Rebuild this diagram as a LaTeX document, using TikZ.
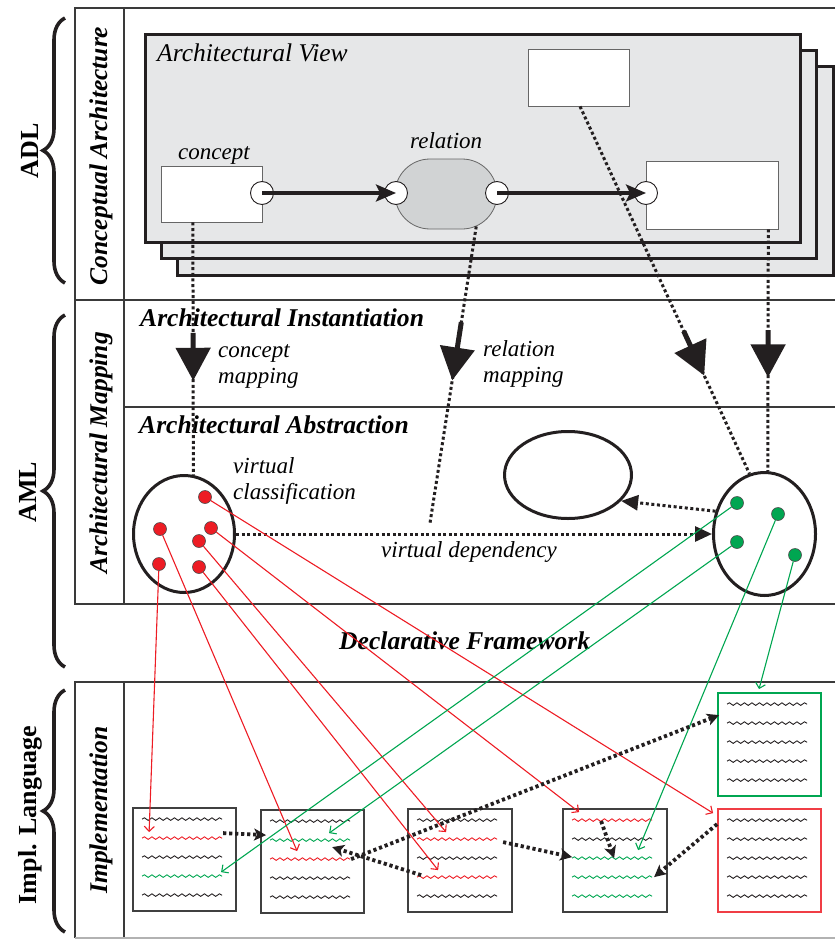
\documentclass[tikz,border=0pt]{standalone}
\usepackage{fontspec}
\setmainfont{Liberation Serif}
\usetikzlibrary{arrows.meta,calc,shapes.geometric,shapes.misc,decorations.pathmorphing,decorations.pathreplacing}

\definecolor{viewfill}{HTML}{E6E7E8}
\definecolor{relfill}{HTML}{D1D3D4}
\definecolor{ink}{HTML}{231F20}
\definecolor{rule}{HTML}{3A3A3A}
\definecolor{dotred}{HTML}{ED1C24}
\definecolor{dotgreen}{HTML}{00A651}
\definecolor{wk}{HTML}{231F20}
\definecolor{wr}{HTML}{ED1C24}
\definecolor{wg}{HTML}{00A651}

% five wavy "code lines" inside an implementation box, with named end points
\newcommand\codelines[2]{%
  \foreach \c [count=\k] in {#2} {
    \coordinate (b#1-\k-L) at ($(b#1.north west)+(10,{12+19*(\k-1)})$);
    \coordinate (b#1-\k-R) at ($(b#1.north west)+(90,{12+19*(\k-1)})$);
    \draw[wave, w\c] (b#1-\k-L) -- (b#1-\k-R);
  }}

\begin{document}
\begin{tikzpicture}[x=1pt,y=-1pt,
  rulestyle/.style={line width=1.6pt, draw=rule},
  sheet/.style={draw=ink, line width=3pt, fill=viewfill},
  plainbox/.style={draw=black!60, line width=0.8pt, fill=white, inner sep=0},
  port/.style={circle, draw=ink, line width=0.9pt, fill=white, minimum size=23pt, inner sep=0},
  adlarrow/.style={draw=ink, line width=3.2pt, -{Stealth[length=20pt,width=17pt,inset=4pt]}},
  mapdots/.style={draw=ink, line width=3pt, dash pattern=on 3pt off 2.6pt},
  bigarrow/.style={draw=ink, line width=5pt, -{Triangle[length=33pt,width=34pt]}},
  classell/.style={ellipse, draw=ink, line width=3pt, inner sep=0},
  reddot/.style={circle, fill=dotred, draw=ink!80, line width=0.6pt, minimum size=13pt, inner sep=0},
  greendot/.style={circle, fill=dotgreen, draw=ink!80, line width=0.6pt, minimum size=13pt, inner sep=0},
  deparrow/.style={mapdots, -{Triangle[length=17pt,width=15pt]}},
  redlink/.style={draw=dotred, line width=1.1pt, -{Straight Barb[length=5pt,width=10pt]}},
  greenlink/.style={draw=dotgreen, line width=1.1pt, -{Straight Barb[length=5pt,width=10pt]}},
  implbox/.style={draw=black!75, line width=1.8pt, minimum width=103pt, minimum height=103pt, inner sep=0},
  wave/.style={line width=0.9pt, decorate, decoration={snake, segment length=7.5pt, amplitude=1.3pt}},
  impldots/.style={draw=ink, line width=3.8pt, dash pattern=on 3.2pt off 2.8pt, -{Stealth[length=12pt,width=12pt,inset=3pt]}},
  lbl/.style={font=\fontsize{23}{25.5}\selectfont\itshape, inner sep=0, align=left},
  headlbl/.style={font=\fontsize{25.6}{28}\selectfont\bfseries\itshape, inner sep=0},
  collbl/.style={font=\fontsize{25.5}{28}\selectfont\bfseries\itshape, inner sep=0, rotate=90, anchor=base},
  sidelbl/.style={font=\fontsize{26}{28}\selectfont\bfseries, inner sep=0, rotate=90, anchor=base},
  bracestyle/.style={draw=ink, line width=3.6pt, decorate, decoration={brace, amplitude=22pt}}
]
\useasboundingbox (0,0) rectangle (835,939);

% ---- band frames ----
\draw[rulestyle] (835,8) -- (75,8) -- (75,604) -- (835,604);
\draw[rulestyle] (124,8) -- (124,604);
\draw[rulestyle] (75,300) -- (835,300);
\draw[rulestyle] (124,407) -- (835,407);
\draw[rulestyle] (835,682) -- (75,682) -- (75,938);
\draw[rulestyle] (124,682) -- (124,938);
\draw[line width=1.6pt, draw=black!30] (75,938) -- (835,938);

% ---- braces and side labels ----
\draw[bracestyle] (65,283) -- (65,18);
\draw[bracestyle] (65,667) -- (65,315);
\draw[bracestyle] (65,932) -- (65,690);
\node[sidelbl] (adl) at (38,151) {ADL};
\node[sidelbl] (aml) at (36,492) {AML};
\node[sidelbl] (impl) at (36,815) {Impl. Language};
\node[collbl] (colca) at (107,156) {Conceptual Architecture};
\node[collbl] (colam) at (107,453) {Architectural Mapping};
\node[collbl] (colim) at (107,810) {Implementation};

% ---- stacked architectural views ----
\draw[sheet] (177,67) rectangle (833,275);
\draw[sheet] (161,51) rectangle (816,258);
\draw[sheet] (145,35) rectangle (800,242);
\node[lbl, font=\fontsize{25.5}{28}\selectfont\itshape, anchor=base west] (viewlbl) at (157,62) {Architectural View};

\node[plainbox, minimum width=101pt, minimum height=56pt] (concept) at (211.5,194) {};
\node[plainbox, minimum width=101pt, minimum height=57pt] (topbox) at (578.5,77.5) {};
\node[plainbox, minimum width=132pt, minimum height=68pt] (target) at (712,195) {};
\node[rounded rectangle, draw=black!60, line width=0.8pt, fill=relfill,
      minimum width=102pt, minimum height=70pt, inner sep=0] (rel) at (446,194) {};
\node[lbl, anchor=base west] (conceptlbl) at (178,159) {concept};
\node[lbl, anchor=base west] (rellbl) at (410,148) {relation};

\node[port] (p1) at (262,193) {};
\node[port] (p2) at (396,193) {};
\node[port] (p3) at (497,193) {};
\node[port] (p4) at (646,193) {};
\draw[adlarrow] (p1.center) -- (p2.center);
\draw[adlarrow] (p3.center) -- (p4.center);

% ---- mapping layer ----
\node[headlbl, anchor=base west] (inst) at (140,326) {Architectural Instantiation};
\node[headlbl, anchor=base west] (abst) at (139,433) {Architectural Abstraction};

\node[classell, minimum width=101pt, minimum height=117pt] (lell) at (184,534) {};
\node[classell, minimum width=102pt, minimum height=123pt] (rell) at (764.5,534) {};
\node[classell, minimum width=127pt, minimum height=87pt] (mell) at (568,475) {};

% two-line labels: the base anchor sits on the last line
\node[lbl, anchor=base west] (cmap) at (218,383) {concept\\mapping};
\node[lbl, anchor=base west] (rmap) at (483,382) {relation\\mapping};
\node[lbl, anchor=base west] (vcls) at (233,499) {virtual\\classification};
\node[lbl, anchor=base west] (vdep) at (381,557) {virtual dependency};

\coordinate (cA) at ($(concept.south west)!0.317!(concept.south east)$);
\coordinate (cB) at (lell.81);
\coordinate (rA) at (rel.-47);
\coordinate (rEnd) at (430,523);
\coordinate (tA) at ($(topbox.south west)!0.515!(topbox.south east)$);
\coordinate (tB) at (rell.104);
\coordinate (gA) at ($(target.south west)!0.924!(target.south east)$);
\coordinate (gB) at (rell.87);

\draw[mapdots] (cA) -- (cB);
\draw[mapdots] (rA) -- (rEnd);
\draw[mapdots] (tA) -- (tB);
\draw[mapdots] (gA) -- (gB);
\draw[bigarrow] ($(cA)!0.437!(cB)$) -- ($(cA)!0.627!(cB)$);
\draw[bigarrow] ($(rA)!0.323!(rEnd)$) -- ($(rA)!0.519!(rEnd)$);
\draw[bigarrow] ($(tA)!0.612!(tB)$) -- ($(tA)!0.733!(tB)$);
\draw[bigarrow] ($(gA)!0.417!(gB)$) -- ($(gA)!0.612!(gB)$);

\draw[deparrow] (lell.east) -- (rell.west);
\draw[deparrow] (rell.155) -- (mell.-26);

\node[headlbl, anchor=base west] (declfw) at (339,649) {Declarative Framework};

% ---- implementation boxes ----
\node[implbox] (b1) at (184.5,859.5) {};
\node[implbox] (b2) at (312.5,861.5) {};
\node[implbox, minimum width=104pt] (b3) at (460,860.5) {};
\node[implbox, minimum width=104pt] (b4) at (615,860.5) {};
\node[implbox, draw=dotred!85] (b5) at (769.5,860.5) {};
\node[implbox, draw=dotgreen] (b6) at (769.5,744.5) {};
\codelines{1}{k,r,k,g,k}
\codelines{2}{k,g,r,k,k}
\codelines{3}{k,r,k,r,k}
\codelines{4}{r,k,g,g,g}
\codelines{5}{k,k,k,k,k}
\codelines{6}{k,k,k,k,k}

% ---- classification dots ----
\node[reddot] (rd1) at (205,497) {};
\node[reddot] (rd2) at (160,529) {};
\node[reddot] (rd3) at (211,528) {};
\node[reddot] (rd4) at (199,541) {};
\node[reddot] (rd5) at (159,564) {};
\node[reddot] (rd6) at (199,567) {};
\node[greendot] (gd1) at (737,503) {};
\node[greendot] (gd2) at (778,514) {};
\node[greendot] (gd3) at (737,542) {};
\node[greendot] (gd4) at (795,555) {};

% ---- links from classified elements to code ----
\draw[redlink] (rd5) -- ($(b1-2-L)+(7,-6)$);
\draw[redlink] (rd2) -- ($(b2-3-L)+(27,-8)$);
\draw[redlink] (rd4) -- ($(b3-2-L)+(29,-7)$);
\draw[redlink] (rd6) -- ($(b3-4-L)+(21,-7)$);
\draw[redlink] (rd3) -- ($(b4-1-L)+(7,-8)$);
\draw[redlink] (rd1) -- ($(b5.north west)+(-4,5)$);
\draw[greenlink] (gd1) -- ($(b1-4-R)+(-1,-4)$);
\draw[greenlink] (gd3) -- ($(b2-2-R)+(-21,-7)$);
\draw[greenlink] (gd2) -- ($(b4-3-L)+(66,-8)$);
\draw[greenlink] (gd4) -- ($(b6.north)+(-10.5,-3)$);

% ---- code-level dependencies ----
\draw[impldots] ($(b1-2-R)+(1,-5)$) -- ($(b2-2-L)+(-4,-5)$);
\draw[impldots] ($(b3-4-L)+(4,-2)$) -- ($(b2-2-R)+(-18,7)$);
\draw[impldots] ($(b2-3-R)+(1,0)$) -- ($(b6.north west)+(2,23)$);
\draw[impldots] ($(b3-2-R)+(6,3)$) -- ($(b4-3-L)+(0,-1)$);
\draw[impldots] ($(b4-1-L)+(29,1)$) -- ($(b4-3-L)+(42,0)$);
\draw[impldots] ($(b5.north west)+(0,16)$) -- ($(b4-4-R)+(2,0)$);
\end{tikzpicture}
\end{document}
